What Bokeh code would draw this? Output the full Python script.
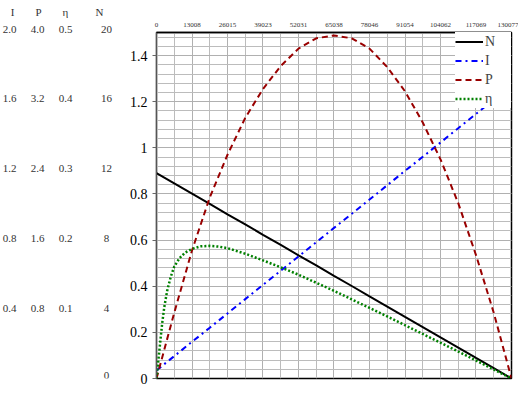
from bokeh.plotting import figure
from bokeh.layouts import row
from bokeh.models import (Range1d, FixedTicker, Legend, LegendItem, LinearAxis,
                          NumeralTickFormatter, ColumnDataSource)
from bokeh.core.properties import value
from bokeh.embed import file_html
from bokeh.resources import INLINE

# ---------------- data ----------------
x_ticks = [0, 13008, 26015, 39023, 52031, 65038, 78046, 91054, 104062, 117069, 130077]
y_ticks = [0, 0.2, 0.4, 0.6, 0.8, 1.0, 1.2, 1.4]

x = [0, 6504, 13008, 19512, 26015, 32519, 39023, 45527, 52031, 58535, 65038,
     71542, 78046, 84550, 91054, 97558, 104062, 110565, 117069, 123573, 130077]
N = [0.890, 0.846, 0.801, 0.757, 0.712, 0.668, 0.623, 0.579, 0.534, 0.490, 0.445,
     0.401, 0.356, 0.312, 0.267, 0.223, 0.178, 0.134, 0.089, 0.045, 0.000]
I = [0.035, 0.097, 0.159, 0.220, 0.282, 0.344, 0.406, 0.467, 0.529, 0.591, 0.653,
     0.714, 0.776, 0.838, 0.900, 0.961, 1.023, 1.085, 1.147, 1.208, 1.270]
P = [0.0, 0.285, 0.555, 0.785, 0.970, 1.130, 1.255, 1.355, 1.430, 1.475, 1.487,
     1.475, 1.430, 1.350, 1.245, 1.110, 0.950, 0.760, 0.535, 0.285, 0.0]

x_eta = [0, 520, 1041, 1561, 2081, 2862, 3902, 5203, 6504, 8455, 10406, 13008,
         16260, 19512, 22763, 26015, 32519, 39023, 45527, 52031, 58535, 65038,
         71542, 78046, 84550, 91054, 97558, 104062, 110565, 117069, 123573, 130077]
eta = [0.0, 0.06, 0.12, 0.18, 0.24, 0.31, 0.38, 0.44, 0.485, 0.522, 0.545, 0.562,
       0.573, 0.575, 0.572, 0.565, 0.541, 0.512, 0.482, 0.450, 0.415, 0.380,
       0.343, 0.306, 0.269, 0.231, 0.193, 0.155, 0.117, 0.078, 0.039, 0.0]

# secondary scales shown as text columns on the left
I_scale = ["0.4", "0.8", "1.2", "1.6", "2.0"]
P_scale = ["0.8", "1.6", "2.4", "3.2", "4.0"]
eta_scale = ["0.1", "0.2", "0.3", "0.4", "0.5"]
N_scale = ["0", "4", "8", "12", "16", "20"]
scale_headers = ["I", "P", "η", "N"]
row_step = 0.304   # main-axis units per row of the left scales

FONT = "Liberation Serif"
TXT = "#333333"

# ---------------- geometry ----------------
H = 393
FRAME_TOP, FRAME_BOTTOM = 32, 378
Y_MAX = 1.5
LEFT_W = 120

# ---------------- left text scales ----------------
pl = figure(width=LEFT_W, height=H, x_range=Range1d(0, LEFT_W),
            y_range=Range1d(0, Y_MAX), output_backend="svg",
            toolbar_location=None, x_axis_type=None, y_axis_type=None,
            min_border_left=0, min_border_right=0,
            min_border_top=FRAME_TOP, min_border_bottom=H - FRAME_BOTTOM)
pl.grid.visible = False
pl.outline_line_color = None

col_x = [9, 37, 65, 106]
tx, ty, tt = [], [], []
for col, labels in ((0, I_scale), (1, P_scale), (2, eta_scale)):
    for k, lab in enumerate(labels[:-1]):
        tx.append(col_x[col])
        ty.append((k + 1) * row_step)
        tt.append(lab)
for k, lab in enumerate(N_scale[1:-1]):
    tx.append(col_x[3])
    ty.append((k + 1) * row_step)
    tt.append(lab)
src = ColumnDataSource(dict(x=tx, y=ty, t=tt))
pl.text(x="x", y="y", text="t", source=src, text_align="center", text_baseline="middle",
        text_font=value(FONT), text_font_size="11px", text_color=TXT)
# zero row of N scale, resting on the frame bottom
pl.text(x=[col_x[3]], y=[0], text=[N_scale[0]], text_align="center",
        text_baseline="bottom", text_font=value(FONT), text_font_size="11px",
        text_color=TXT)


def text_axis(ticks, labels, standoff):
    ax = LinearAxis(ticker=FixedTicker(ticks=ticks, minor_ticks=[]),
                    major_label_overrides={t: l for t, l in zip(ticks, labels)})
    ax.axis_line_color = None
    ax.major_tick_line_color = None
    ax.minor_tick_line_color = None
    ax.major_tick_out = 0
    ax.major_tick_in = 0
    ax.major_label_standoff = standoff
    ax.major_label_text_font = FONT
    ax.major_label_text_font_size = "11px"
    ax.major_label_text_color = TXT
    return ax


top_vals = [I_scale[-1], P_scale[-1], eta_scale[-1], N_scale[-1]]
pl.add_layout(text_axis(col_x, top_vals, 0), "above")
hdr_x = [12, 38, 65, 99]
pl.add_layout(text_axis(hdr_x, scale_headers, 5), "above")

# ---------------- main chart ----------------
p = figure(width=518 - LEFT_W, height=H, x_range=Range1d(0, 130077),
           y_range=Range1d(0, Y_MAX),
           output_backend="svg", toolbar_location=None, x_axis_location="above",
           min_border_left=156 - LEFT_W, min_border_right=7, min_border_top=FRAME_TOP,
           min_border_bottom=H - FRAME_BOTTOM)
p.background_fill_color = "white"
p.outline_line_color = "black"
p.outline_line_width = 1.5

xa = p.xaxis[0]
xminor = [(x_ticks[i] + x_ticks[i + 1]) / 2 for i in range(len(x_ticks) - 1)]
xa.ticker = FixedTicker(ticks=x_ticks, minor_ticks=xminor)
xa.formatter = NumeralTickFormatter(format="0")
xa.major_label_text_font = FONT
xa.major_label_text_font_size = "7px"
xa.major_label_text_color = TXT
xa.major_tick_in = 0
xa.major_tick_out = 0
xa.minor_tick_in = 0
xa.minor_tick_out = 0
xa.axis_line_color = "black"
xa.axis_line_width = 1.5
xa.major_label_standoff = 6

ya = p.yaxis[0]
yminor = [round(i * 0.04, 2) for i in range(0, 38)]
ya.ticker = FixedTicker(ticks=y_ticks, minor_ticks=yminor)
ya.major_label_overrides = {0: "0", 0.2: "0.2", 0.4: "0.4", 0.6: "0.6", 0.8: "0.8",
                            1.0: "1", 1.2: "1.2", 1.4: "1.4"}
ya.major_label_text_font = FONT
ya.major_label_text_font_size = "14px"
ya.major_label_text_color = "black"
ya.major_tick_in = 0
ya.major_tick_out = 4
ya.major_tick_line_color = "#666666"
ya.minor_tick_in = 0
ya.minor_tick_out = 0
ya.axis_line_color = "#555555"
ya.major_label_standoff = 5

for g in (p.xgrid[0], p.ygrid[0]):
    g.grid_line_color = "#b0b0b0"
    g.grid_line_width = 1
    g.minor_grid_line_color = "#bcbcbc"
    g.minor_grid_line_width = 1

rN = p.line(x, N, line_color="black", line_width=2)
rI = p.line(x, I, line_color="#0000ff", line_width=2, line_dash="6 4 2 4")
rP = p.line(x, P, line_color="#990000", line_width=2, line_dash="6 4")
rE = p.line(x_eta, eta, line_color="#008000", line_width=2.5, line_dash="2 2")

legend = Legend(items=[LegendItem(label="N", renderers=[rN]),
                       LegendItem(label="I", renderers=[rI]),
                       LegendItem(label="P", renderers=[rP]),
                       LegendItem(label="η", renderers=[rE])],
                location="top_right")
legend.margin = 0
legend.padding = 3
legend.spacing = 0
legend.glyph_width = 28
legend.glyph_height = 19
legend.label_height = 19
legend.label_width = 26
legend.label_standoff = 2
legend.label_text_font = FONT
legend.label_text_font_size = "14px"
legend.border_line_color = None
legend.background_fill_color = "white"
legend.background_fill_alpha = 1.0
p.add_layout(legend)

layout = row(pl, p, spacing=0)
open("out.html", "w").write(file_html(layout, INLINE))
